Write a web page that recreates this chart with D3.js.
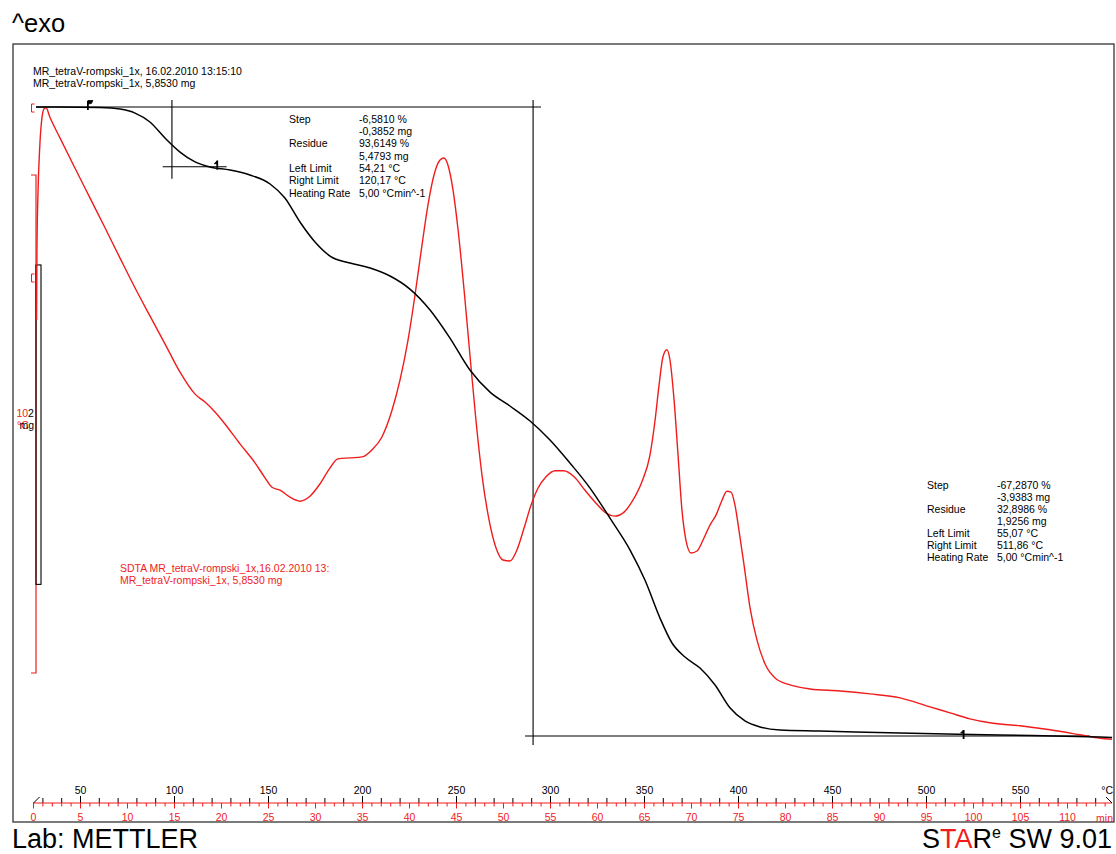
<!DOCTYPE html>
<html>
<head>
<meta charset="utf-8">
<script src="https://cdn.jsdelivr.net/npm/d3@7"></script>
<style>
  body { margin: 0; background: #fff; }
  svg { display: block; }
</style>
</head>
<body>
<svg id="chart" width="1116" height="854"></svg>
<script>
// TGA curve: temperature (°C) / mass (mg)
const tgaTemp = [26.6, 39.4, 60.6, 71.3, 79.3, 87.2, 95.2, 103.2, 111.2, 119.1, 129.8, 140.4, 151.1, 159.0,
    167.0, 175.0, 183.0, 193.6, 204.3, 214.9, 225.5, 236.2, 246.8, 257.4, 268.1, 278.7, 289.4, 300.0, 310.6,
    321.3, 331.9, 342.6, 350.5, 358.5, 364.9, 371.8, 379.8, 387.8, 395.7, 403.7, 411.7, 422.3, 443.6, 486.2,
    539.4, 592.6, 599.0];
const tgaMass = [5.853, 5.853, 5.850, 5.840, 5.815, 5.759, 5.659, 5.571, 5.509, 5.477, 5.458, 5.427, 5.371, 5.283,
    5.133, 5.008, 4.920, 4.876, 4.845, 4.795, 4.713, 4.582, 4.406, 4.206, 4.068, 3.981, 3.887, 3.768, 3.624,
    3.467, 3.279, 3.079, 2.891, 2.653, 2.497, 2.409, 2.340, 2.234, 2.091, 2.009, 1.971, 1.952, 1.946, 1.933,
    1.921, 1.908, 1.906];

// SDTA curve: temperature (°C) / signal (°C)
const sdtaTemp = [26.9, 27.1, 27.7, 28.5, 29.5, 30.9, 31.9, 34.0, 39.4, 47.3, 55.3, 63.3, 71.3, 79.3, 87.2, 95.2,
    103.2, 111.2, 116.5, 121.8, 127.1, 135.1, 143.1, 148.4, 152.1, 156.4, 161.7, 167.0, 172.3, 177.7, 183.0,
    187.2, 193.6, 200.0, 205.3, 210.6, 216.0, 220.2, 224.5, 228.2, 231.9, 235.1, 238.3, 241.5, 243.6, 245.7,
    248.4, 251.1, 254.3, 257.4, 260.6, 263.8, 267.6, 271.3, 275.0, 278.7, 282.4, 286.2, 289.9, 293.6, 297.9,
    302.7, 307.4, 312.8, 318.6, 324.5, 329.8, 334.6, 339.4, 344.1, 348.9, 353.2, 355.9, 358.0, 360.1, 362.2,
    363.8, 366.0, 368.1, 370.2, 372.3, 375.0, 378.2, 381.4, 385.1, 388.3, 391.5, 394.1, 396.3, 398.4, 400.5,
    403.2, 406.4, 410.1, 414.4, 419.7, 427.7, 438.3, 454.3, 470.2, 486.2, 502.1, 512.8, 523.4, 534.0, 550.0,
    566.0, 581.9, 592.6, 598.9];
const sdtaSignal = [7.09, 8.49, 9.70, 10.50, 11.06, 11.33, 11.35, 11.16, 10.74, 10.14, 9.54, 8.94, 8.33, 7.73, 7.17, 6.61,
    6.04, 5.60, 5.44, 5.24, 5.00, 4.60, 4.22, 3.92, 3.73, 3.67, 3.53, 3.45, 3.55, 3.80, 4.12,
    4.30, 4.32, 4.34, 4.48, 4.74, 5.28, 5.88, 6.69, 7.59, 8.59, 9.40, 10.00, 10.30, 10.34, 10.20,
    9.70, 8.90, 7.69, 6.39, 5.08, 3.98, 3.07, 2.51, 2.27, 2.25, 2.47, 2.91, 3.37, 3.71, 3.94,
    4.06, 4.06, 3.94, 3.67, 3.41, 3.21, 3.15, 3.23, 3.47, 3.84, 4.38, 5.08, 5.78, 6.35, 6.49,
    6.29, 5.48, 4.38, 3.27, 2.67, 2.41, 2.45, 2.67, 2.97, 3.17, 3.47, 3.65, 3.63, 3.37, 2.87,
    2.17, 1.31, 0.66, 0.18, -0.10, -0.24, -0.32, -0.36, -0.42, -0.50, -0.68, -0.80, -0.92, -1.00, -1.06,
    -1.14, -1.24, -1.31, -1.33];

const tempLabels = [50, 100, 150, 200, 250, 300, 350, 400, 450, 500, 550];
const timeLabels = [0, 5, 10, 15, 20, 25, 30, 35, 40, 45, 50, 55, 60, 65, 70, 75, 80, 85, 90, 95, 100, 105, 110];

const headerLines = ['MR_tetraV-rompski_1x, 16.02.2010 13:15:10', 'MR_tetraV-rompski_1x, 5,8530 mg'];
const sdtaLines = ['SDTA MR_tetraV-rompski_1x,16.02.2010 13:', 'MR_tetraV-rompski_1x, 5,8530 mg'];
const stepLabels = ['Step', '', 'Residue', '', 'Left Limit', 'Right Limit', 'Heating Rate'];
const step1Values = ['-6,5810 %', '-0,3852 mg', '93,6149 %', '5,4793 mg', '54,21 °C', '120,17 °C', '5,00 °Cmin^-1'];
const step2Values = ['-67,2870 %', '-3,9383 mg', '32,8986 %', '1,9256 mg', '55,07 °C', '511,86 °C', '5,00 °Cmin^-1'];

// step evaluation: start mass, end masses, tangent temperatures
const massStart = 5.853;
const step1End = 5.4793;
const step2End = 1.9147;
const step1Mid = 98.9;
const step2Mid = 291;
const markerTemps = [54.2, 123, 520];

// scale bars: 2 mg (black, from its top value) and 10 °C (red)
const massBarTop = 4.864;
const massBarSpan = 2;
const sdtaBarSpan = 10;

const WIDTH = 1116;
const HEIGHT = 854;
const FRAME = { left: 13, top: 44, right: 1114, bottom: 822 };
const AXIS_Y = 803;
const RED = '#f01c1c';
const FONT = '"Liberation Sans", Arial, sans-serif';
const FS = 10.5;

const svg = d3.select('#chart');

const xTemp = d3.scaleLinear().domain([25, 600]).range([33, 1114]);
const xTime = d3.scaleLinear().domain([0, 115]).range([33, 1114]);
const yMass = d3.scaleLinear().domain([massStart, step2End]).range([107, 736]);
const ySdta = d3.scaleLinear().domain([0, 10]).range([673, 175]);

// title
svg.append('text')
    .text('^exo')
    .attr('x', 12)
    .attr('y', 32)
    .attr('font-family', FONT)
    .attr('font-size', 25.5)
    .attr('fill', '#000');

// frame
svg.append('rect')
    .attr('x', FRAME.left)
    .attr('y', FRAME.top)
    .attr('width', FRAME.right - FRAME.left)
    .attr('height', FRAME.bottom - FRAME.top)
    .attr('fill', 'none')
    .attr('stroke', '#333')
    .attr('stroke-width', 1.3);

const g = svg.append('g');

// header lines
headerLines.forEach((t, i) => {
    g.append('text')
        .text(t)
        .attr('x', 33)
        .attr('y', 74.5 + i * 12.3)
        .attr('font-family', FONT)
        .attr('font-size', FS)
        .attr('fill', '#000');
});

// SDTA legend text
sdtaLines.forEach((t, i) => {
    g.append('text')
        .text(t)
        .attr('x', 120)
        .attr('y', 571.5 + i * 12.3)
        .attr('font-family', FONT)
        .attr('font-size', FS)
        .attr('fill', RED);
});

// step tables
let drawTable = (x0, x1, y0, gap, values) => {
    stepLabels.forEach((t, i) => {
        if (t) {
            g.append('text')
                .text(t)
                .attr('x', x0)
                .attr('y', y0 + i * gap)
                .attr('font-family', FONT)
                .attr('font-size', FS)
                .attr('fill', '#000');
        }
        g.append('text')
            .text(values[i])
            .attr('x', x1)
            .attr('y', y0 + i * gap)
            .attr('font-family', FONT)
            .attr('font-size', FS)
            .attr('fill', '#000');
    });
};
drawTable(289, 359, 122.5, 12.35, step1Values);
drawTable(927, 997, 488.5, 12.1, step2Values);

// left scale bars
g.append('path')
    .attr('d', `M31,${ySdta(sdtaBarSpan)}H36V${ySdta(0)}H31`)
    .attr('fill', 'none')
    .attr('stroke', RED)
    .attr('stroke-width', 1.2);
[108, 278].forEach(yy => {
    g.append('path')
        .attr('d', `M34.5,${yy - 4}H31.5V${yy + 4}H34.5`)
        .attr('fill', 'none')
        .attr('stroke', RED)
        .attr('stroke-width', 1);
});
g.append('rect')
    .attr('x', 36)
    .attr('y', yMass(massBarTop))
    .attr('width', 5)
    .attr('height', yMass(massBarTop - massBarSpan) - yMass(massBarTop))
    .attr('fill', 'none')
    .attr('stroke', '#000')
    .attr('stroke-width', 1.1);

// scale bar labels (they overlap in the original too)
g.append('text').text('10').attr('x', 16.5).attr('y', 416.5)
    .attr('font-family', FONT).attr('font-size', FS).attr('fill', RED);
g.append('text').text('2').attr('x', 28).attr('y', 416.5)
    .attr('font-family', FONT).attr('font-size', FS).attr('fill', '#000');
g.append('text').text('°C').attr('x', 17).attr('y', 428.5)
    .attr('font-family', FONT).attr('font-size', FS).attr('fill', RED);
g.append('text').text('mg').attr('x', 19.5).attr('y', 428.5)
    .attr('font-family', FONT).attr('font-size', FS).attr('fill', '#000');

// step evaluation lines
let stepLine = (xa, ya, xb, yb) => {
    g.append('line')
        .attr('x1', xa).attr('y1', ya)
        .attr('x2', xb).attr('y2', yb)
        .attr('stroke', '#000')
        .attr('stroke-width', 1.1);
};
stepLine(xTemp(26.6), yMass(massStart), xTemp(295.2), yMass(massStart));
stepLine(xTemp(step1Mid), yMass(massStart) - 7, xTemp(step1Mid), yMass(step1End) + 12);
stepLine(xTemp(94), yMass(step1End), xTemp(128), yMass(step1End));
stepLine(xTemp(step2Mid), yMass(massStart) - 7, xTemp(step2Mid), yMass(step2End) + 9);
stepLine(xTemp(286.7), yMass(step2End), xTemp(587.2), yMass(step2End));

// curves
let lineTga = d3.line()
    .x(function (d) { return xTemp(d[0]); })
    .y(function (d) { return yMass(d[1]); })
    .curve(d3.curveMonotoneX);
let lineSdta = d3.line()
    .x(function (d) { return xTemp(d[0]); })
    .y(function (d) { return ySdta(d[1]); })
    .curve(d3.curveMonotoneX);

g.append('path')
    .attr('d', lineSdta(d3.zip(sdtaTemp, sdtaSignal)))
    .attr('fill', 'none')
    .attr('stroke', RED)
    .attr('stroke-width', 1.4);

g.append('path')
    .attr('d', lineTga(d3.zip(tgaTemp, tgaMass)))
    .attr('fill', 'none')
    .attr('stroke', '#000')
    .attr('stroke-width', 1.5);

// limit markers
const markerMass = [massStart, step1End, step2End];
markerTemps.forEach((t, i) => {
    let mx = xTemp(t), my = yMass(markerMass[i]);
    g.append('line')
        .attr('x1', mx).attr('y1', my - 6)
        .attr('x2', mx).attr('y2', my + 3)
        .attr('stroke', '#000')
        .attr('stroke-width', 1.8);
    let flag = i === 0 ? `M${mx},${my - 6.5}h5l-1.5,3l-3.5,0.5z` : `M${mx},${my - 6}l-3,3h3z`;
    g.append('path')
        .attr('d', flag)
        .attr('fill', '#000')
        .attr('stroke', '#000')
        .attr('stroke-width', 0.8);
});

// x axes
const tempTicks = d3.range(30, 600, 10);
const timeTicks = d3.range(0, 115, 1);

let tempAxis = d3.axisTop(xTemp)
    .tickValues(tempTicks)
    .tickSize(5)
    .tickPadding(4)
    .tickFormat(d => tempLabels.includes(d) ? d : '');
let gTemp = g.append('g')
    .attr('transform', `translate(0,${AXIS_Y})`)
    .call(tempAxis);
gTemp.select('.domain').remove();
gTemp.selectAll('.tick line').attr('stroke', '#000');
gTemp.selectAll('.tick')
    .filter(d => tempLabels.includes(d))
    .select('line')
    .attr('y1', 5)
    .attr('y2', -7);
gTemp.selectAll('.tick text')
    .attr('font-family', FONT)
    .attr('font-size', 10.5)
    .attr('fill', '#000');

let timeAxis = d3.axisBottom(xTime)
    .tickValues(timeTicks)
    .tickSize(3.5)
    .tickPadding(7)
    .tickFormat(d => timeLabels.includes(d) ? d : '');
let gTime = g.append('g')
    .attr('transform', `translate(0,${AXIS_Y})`)
    .call(timeAxis);
gTime.select('.domain').remove();
gTime.selectAll('.tick line').attr('stroke', RED);
gTime.selectAll('.tick')
    .filter(d => timeLabels.includes(d))
    .select('line')
    .attr('y2', 5.5);
gTime.selectAll('.tick text')
    .attr('font-family', FONT)
    .attr('font-size', 10.5)
    .attr('fill', RED);

g.append('line')
    .attr('x1', xTime(0)).attr('y1', AXIS_Y)
    .attr('x2', xTime(115) - 2).attr('y2', AXIS_Y)
    .attr('stroke', RED)
    .attr('stroke-width', 1.2);
g.append('line')
    .attr('x1', 33.5).attr('y1', AXIS_Y)
    .attr('x2', 39.5).attr('y2', AXIS_Y - 6)
    .attr('stroke', '#000').attr('stroke-width', 1);
g.append('line')
    .attr('x1', 1106).attr('y1', AXIS_Y - 6)
    .attr('x2', 1112).attr('y2', AXIS_Y)
    .attr('stroke', '#000').attr('stroke-width', 1);
g.append('text').text('°C')
    .attr('x', 1113).attr('y', 793.5)
    .attr('text-anchor', 'end')
    .attr('font-family', FONT).attr('font-size', 10.5).attr('fill', '#000');
g.append('text').text('min')
    .attr('x', 1113).attr('y', 821.5)
    .attr('text-anchor', 'end')
    .attr('font-family', FONT).attr('font-size', 10.5).attr('fill', RED);

// footer
svg.append('text')
    .text('Lab: METTLER')
    .attr('x', 12)
    .attr('y', 848)
    .attr('font-family', FONT)
    .attr('font-size', 27)
    .attr('fill', '#000');

const footer = svg.append('text')
    .attr('x', 1112)
    .attr('y', 848)
    .attr('text-anchor', 'end')
    .attr('font-family', FONT)
    .attr('font-size', 27)
    .attr('fill', '#000');
footer.append('tspan').text('S');
footer.append('tspan').text('TA').attr('fill', RED);
footer.append('tspan').text('R');
footer.append('tspan').text('e').attr('font-size', 16).attr('dy', -10);
footer.append('tspan').text(' SW 9.01').attr('dy', 10);
</script>
</body>
</html>
